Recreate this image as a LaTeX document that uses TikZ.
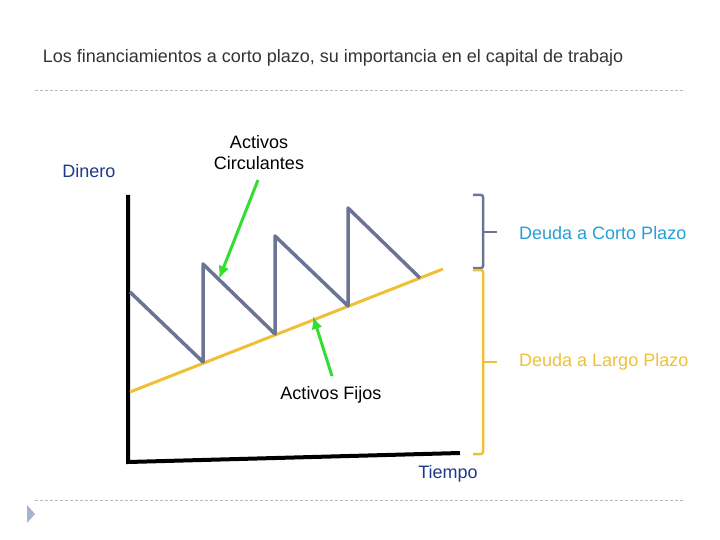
\documentclass[tikz,border=0pt]{standalone}
\usepackage{fontspec}
\setmainfont{Liberation Sans}
\usepackage{tikz}
\usetikzlibrary{arrows.meta}
\definecolor{titulo}{RGB}{51,51,51}
\definecolor{marino}{RGB}{31,56,140}
\definecolor{celeste}{RGB}{38,158,214}
\definecolor{amarillo}{RGB}{240,192,52}
\definecolor{sierra}{RGB}{108,116,150}
\definecolor{verde}{RGB}{50,222,50}
\definecolor{guion}{RGB}{185,185,185}
\definecolor{vineta}{RGB}{165,180,202}
\tikzstyle{texto}=[inner sep=0pt, font=\fontsize{18}{21}\selectfont]
\tikzstyle{rotulo}=[texto, align=center]
\tikzstyle{separador}=[draw, color=guion, line width=0.8pt, dash pattern=on 3pt off 2pt]
\tikzstyle{eje}=[draw, line width=4pt, color=black]
\tikzstyle{fijo}=[draw, line width=3pt, color=amarillo]
\tikzstyle{diente}=[draw, line width=3.5pt, color=sierra, line join=round]
\tikzstyle{flecha}=[draw, line width=3pt, color=verde, -{Latex[length=13pt,width=11pt]}]
\tikzstyle{llave}=[draw, line width=2.5pt, rounded corners=2pt]

\begin{document}
\begin{tikzpicture}[x=1pt,y=-1pt]
  \useasboundingbox (0,0) rectangle (720,540);

  % Title and separators
  \path (333,58) node (titulo) [texto, text=titulo]
    {Los financiamientos a corto plazo, su importancia en el capital de trabajo};
  \coordinate (s1a) at (35,90);  \coordinate (s1b) at (685,90);
  \coordinate (s2a) at (35,500); \coordinate (s2b) at (685,500);
  \path [separador] (s1a) -- (s1b);
  \path [separador] (s2a) -- (s2b);
  \path [fill=vineta] (27,505) -- (27,523) -- (35,514) -- cycle;

  % Axes
  \coordinate (ytop) at (128,195);
  \coordinate (orig) at (128,462);
  \coordinate (xend) at (460,453);
  \path [eje] (ytop) -- (orig) -- (xend);

  % Fixed assets line
  \coordinate (f1) at (130,392);
  \coordinate (f2) at (443,269);
  \path [fijo] (f1) -- (f2);

  % Current assets saw
  \coordinate (d0) at (130,292);
  \coordinate (d1) at (203,362);
  \coordinate (d2) at (203,264);
  \coordinate (d3) at (275,334);
  \coordinate (d4) at (275,236);
  \coordinate (d5) at (348,306);
  \coordinate (d6) at (348,208);
  \coordinate (d7) at (420,278);
  \path [diente] (d0) -- (d1) -- (d2) -- (d3) -- (d4) -- (d5) -- (d6) -- (d7);

  % Labels
  \path (89,171) node (dinero) [texto, text=marino] {Dinero};
  \path (259,153) node (circ) [rotulo] {Activos\\Circulantes};
  \path (331,395) node (fijos) [texto] {Activos Fijos};
  \path (448,474) node (tiempo) [texto, text=marino] {Tiempo};

  % Green arrows
  \coordinate (c1) at (258,180); \coordinate (c2) at (219,279);
  \coordinate (a1) at (332,376); \coordinate (a2) at (313,316);
  \path [flecha] (c1) -- (c2);
  \path [flecha] (a1) -- (a2);

  % Braces
  \coordinate (k1) at (473,195); \coordinate (k2) at (473,268);
  \coordinate (k3) at (473,270); \coordinate (k4) at (473,454);
  \path [llave, color=sierra] (k1) -- +(10,0) -- (483,268) -- (k2);
  \path [llave, color=amarillo] (k3) -- +(10,0) -- (483,454) -- (k4);
  \path [llave, color=sierra] (483,232) -- (497,232);
  \path [llave, color=amarillo] (483,362) -- (497,362);
  \path (519,233) node (corto) [texto, anchor=west, text=celeste] {Deuda a Corto Plazo};
  \path (519,362) node (largo) [texto, anchor=west, text=amarillo] {Deuda a Largo Plazo};
\end{tikzpicture}
\end{document}
